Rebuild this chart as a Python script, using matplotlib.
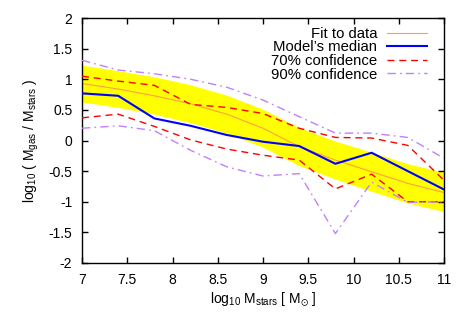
import numpy as np
import matplotlib
matplotlib.use("Agg")
import matplotlib.pyplot as plt

plt.rcParams['font.family'] = ['Liberation Sans', 'DejaVu Sans']
plt.rcParams['mathtext.default'] = 'regular'
plt.rcParams['font.size'] = 10

# stellar mass bins (log10 Msun)
mstar = [7.0, 7.4, 7.8, 8.2, 8.6, 9.0, 9.4, 9.8, 10.2, 10.6, 11.0]

fit = [0.93, 0.84, 0.73, 0.60, 0.43, 0.20, -0.10, -0.32, -0.51, -0.70, -0.85]
band_hi = [1.23, 1.14, 1.04, 0.91, 0.74, 0.51, 0.21, -0.01, -0.19, -0.38, -0.52]
band_lo = [0.63, 0.54, 0.43, 0.29, 0.12, -0.11, -0.41, -0.63, -0.83, -1.02, -1.16]

median = [0.77, 0.73, 0.36, 0.24, 0.09, -0.02, -0.09, -0.38, -0.20, -0.50, -0.80]
c70_hi = [1.05, 0.97, 0.90, 0.59, 0.54, 0.44, 0.20, 0.05, 0.04, -0.08, -0.65]
c70_lo = [0.37, 0.43, 0.23, 0.01, -0.14, -0.24, -0.32, -0.79, -0.55, -1.00, -1.00]
c90_hi = [1.31, 1.15, 1.09, 1.00, 0.87, 0.66, 0.39, 0.12, 0.12, 0.05, -0.29]
c90_lo = [0.20, 0.24, 0.16, -0.16, -0.43, -0.58, -0.54, -1.52, -0.68, -1.01, -1.00]

fig = plt.figure(figsize=(4.67, 3.27), dpi=100)
ax = fig.add_axes([82/467, 1 - 263/327, (444 - 82)/467, (263 - 18)/327])

ax.fill_between(mstar, band_lo, band_hi, color='#ffff00', lw=0, zorder=1)
ax.plot(mstar, fit, color='#ffa040', lw=0.8, label='Fit to data', zorder=2)
ax.plot(mstar, median, color='#0000ff', lw=1.5, label='Model\u2019s median', zorder=4)
ax.plot(mstar, c70_hi, color='#ff0000', lw=1.0, dashes=(5, 3.5), label='70% confidence', zorder=3)
ax.plot(mstar, c70_lo, color='#ff0000', lw=1.0, dashes=(5, 3.5), zorder=3)
ax.plot(mstar, c90_hi, color='#c080ff', lw=1.0, dashes=(6, 3, 1.2, 3), label='90% confidence', zorder=3)
ax.plot(mstar, c90_lo, color='#c080ff', lw=1.0, dashes=(6, 3, 1.2, 3), zorder=3)

ax.set_xlim(7, 11)
ax.set_ylim(-2, 2)
ax.set_xticks([7, 7.5, 8, 8.5, 9, 9.5, 10, 10.5, 11])
ax.set_xticklabels(['7', '7.5', '8', '8.5', '9', '9.5', '10', '10.5', '11'])
ax.set_yticks([-2, -1.5, -1, -0.5, 0, 0.5, 1, 1.5, 2])
ax.set_yticklabels(['-2', '-1.5', '-1', '-0.5', '0', '0.5', '1', '1.5', '2'])
ax.tick_params(direction='in', top=True, right=True, length=4, width=1, pad=7)
for s in ax.spines.values():
    s.set_linewidth(1)

ax.set_xlabel(r'log$_{10}$ M$_{stars}$ [ M$_{\odot}$ ]', labelpad=3)
ax.set_ylabel(r'log$_{10}$ ( M$_{gas}$ / M$_{stars}$ )', labelpad=5)

leg = ax.legend(loc='upper right', bbox_to_anchor=(0.978, 1.0), frameon=False,
                markerfirst=False, handlelength=2.7, handletextpad=0.67,
                labelspacing=-0.03, borderaxespad=0.2, fontsize=10.7)

fig.savefig('out.png', dpi=100)
